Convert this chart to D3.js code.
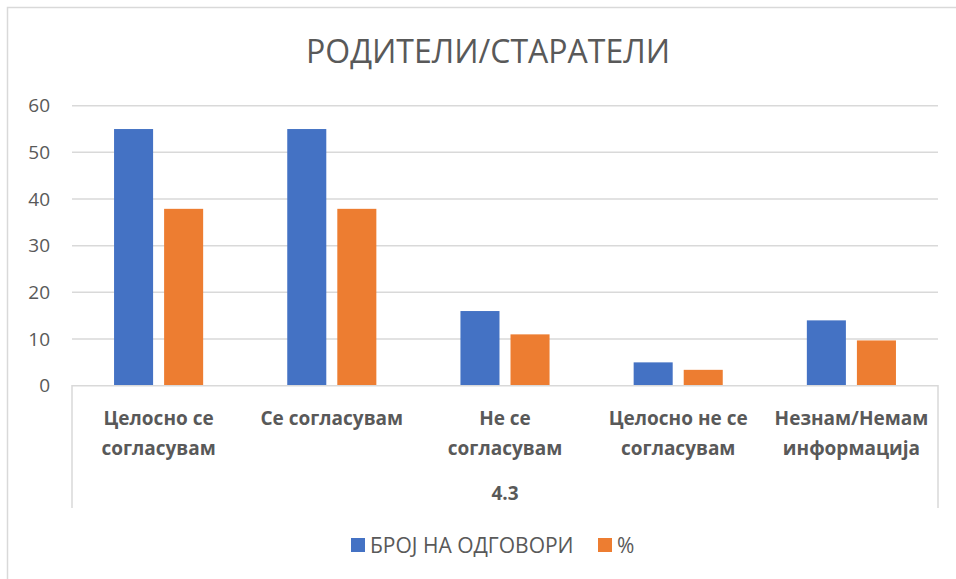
<!DOCTYPE html>
<html>
<head>
<meta charset="utf-8">
<script src="https://cdn.jsdelivr.net/npm/d3@7"></script>
<style>
  body { margin: 0; background: #fff; }
  text { font-family: "Open Sans", "Noto Sans", sans-serif; fill: #595959; }
</style>
</head>
<body>
<div id="chart"></div>
<script>
// categories, two lines each as in the original labels
var categories = [
  ["Целосно се", "согласувам"],
  ["Се согласувам"],
  ["Не се", "согласувам"],
  ["Целосно не се", "согласувам"],
  ["Незнам/Немам", "информација"]
];
var answers = [55, 55, 16, 5, 14];          // БРОЈ НА ОДГОВОРИ
var percents = [37.9, 37.9, 11.0, 3.4, 9.7]; // %
var seriesNames = ["БРОЈ НА ОДГОВОРИ", "%"];
var yTicks = [0, 10, 20, 30, 40, 50, 60];
var groupLabel = "4.3";
var title = "РОДИТЕЛИ/СТАРАТЕЛИ";

var width = 956, height = 579,
    plot = {left: 72, right: 938, top: 105.7, bottom: 385.7},
    colors = ["#4472C4", "#ED7D31"];

var svg = d3.select('#chart')
  .append('svg')
  .attr('width', width)
  .attr('height', height);

// outer chart border
svg.append('rect')
  .attr('x', 7.5).attr('y', 7.5)
  .attr('width', 960).attr('height', 600)
  .attr('fill', 'none')
  .attr('stroke', '#d9d9d9')
  .attr('stroke-width', 1.5);

svg.append('text')
  .attr('x', 488).attr('y', 63)
  .attr('text-anchor', 'middle')
  .style('font-size', '32px')
  .text(title);

var yScale = d3.scaleLinear()
  .domain([0, 60])
  .range([plot.bottom, plot.top]);

var x0 = d3.scaleBand()
  .domain(d3.range(categories.length))
  .range([plot.left, plot.right]);

var x1 = d3.scaleBand()
  .domain([0, 1])
  .range([0, x0.bandwidth()])
  .paddingInner(0.22)
  .paddingOuter(0.84);

// gridlines
svg.append('g')
  .selectAll('line').data(yTicks.filter(function (d) { return d > 0; }))
  .enter().append('line')
  .attr('x1', plot.left).attr('x2', plot.right)
  .attr('y1', function (d) { return yScale(d); })
  .attr('y2', function (d) { return yScale(d); })
  .attr('stroke', '#d9d9d9')
  .attr('stroke-width', 1.5);

// y axis labels
var yAxis = d3.axisLeft(yScale).tickValues(yTicks).tickSize(0).tickPadding(0);
var yg = svg.append('g')
  .attr('transform', 'translate(50,0)')
  .call(yAxis);
yg.select('.domain').remove();
yg.selectAll('text')
  .style('font-size', '19px')
  .style('fill', '#595959')
  .style('font-family', '"Open Sans", sans-serif');

// bars
var seriesData = [answers, percents];
seriesData.forEach(function (values, s) {
  svg.append('g').selectAll('rect').data(values)
    .enter().append('rect')
    .attr('fill', colors[s])
    .attr('x', function (d, i) { return x0(i) + x1(s); })
    .attr('width', x1.bandwidth())
    .attr('y', function (d) { return yScale(d); })
    .attr('height', function (d) { return plot.bottom - yScale(d); });
});

// category box (x axis)
var boxBottom = 508;
svg.append('path')
  .attr('d', 'M' + plot.left + ',' + boxBottom + 'V' + plot.bottom + 'H' + plot.right + 'V' + boxBottom)
  .attr('fill', 'none')
  .attr('stroke', '#d9d9d9')
  .attr('stroke-width', 1.5);

var catG = svg.append('g').selectAll('text').data(categories)
  .enter().append('text')
  .attr('text-anchor', 'middle')
  .attr('transform', function (d, i) { return 'translate(' + (x0(i) + x0.bandwidth() / 2) + ',425)'; })
  .style('font-size', '19px')
  .style('font-weight', 'bold');
catG.selectAll('tspan').data(function (d) { return d; })
  .enter().append('tspan')
  .attr('x', 0)
  .attr('dy', function (d, i) { return i === 0 ? 0 : 30; })
  .text(function (d) { return d; });

svg.append('text')
  .attr('x', (plot.left + plot.right) / 2)
  .attr('y', 500)
  .attr('text-anchor', 'middle')
  .style('font-size', '19px')
  .style('font-weight', 'bold')
  .text(groupLabel);

// legend
var legend = svg.append('g').attr('transform', 'translate(351,538)');
var legX = [0, 247];
seriesNames.forEach(function (name, s) {
  var g = legend.append('g').attr('transform', 'translate(' + legX[s] + ',0)');
  g.append('rect').attr('width', 14).attr('height', 14).attr('fill', colors[s]);
  g.append('text').attr('x', 19).attr('y', 14.5)
    .style('font-size', '21px')
    .text(name);
});
</script>
</body>
</html>
